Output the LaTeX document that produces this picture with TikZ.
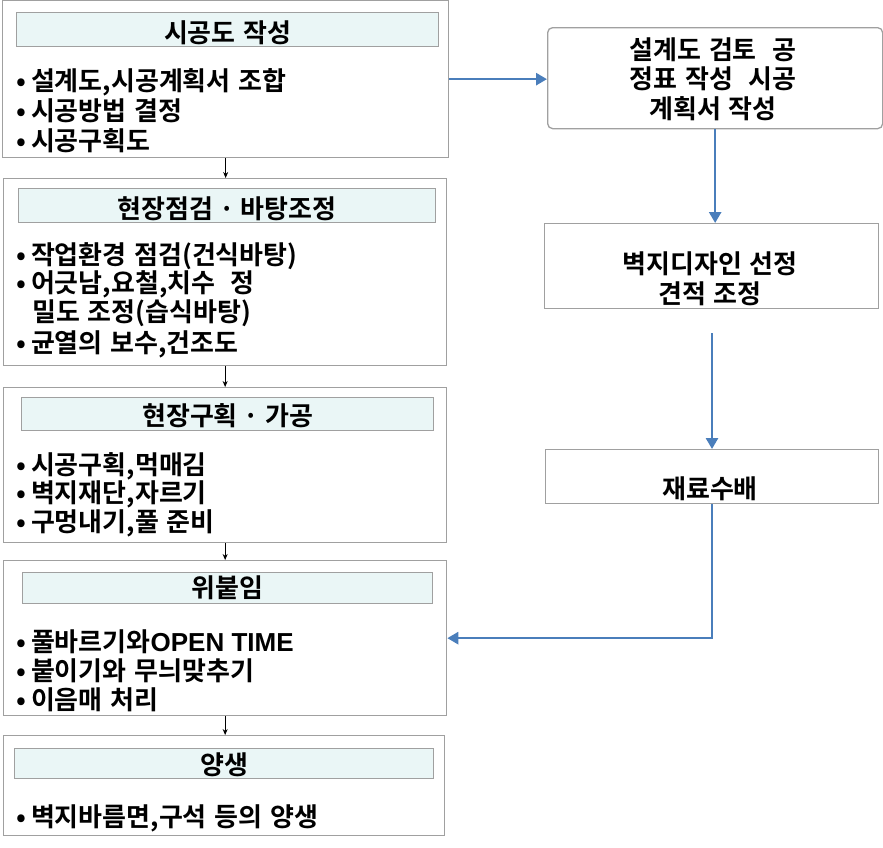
\documentclass[tikz,border=0pt]{standalone}
\usepackage{fontspec}
\setmainfont{Noto Sans CJK KR}[BoldFont={Noto Sans CJK KR Bold},WordSpace=1.3]
\newfontfamily\latinb{Liberation Sans}
\usetikzlibrary{arrows.meta}
\definecolor{boxgray}{HTML}{A0A0A0}
\definecolor{headfill}{HTML}{EAF6F6}
\definecolor{flowblue}{HTML}{4A7EBB}
\newcommand{\mdot}{\hspace{6pt}·\hspace{6pt}}
\newcommand{\lowered}[2]{\raisebox{-#1}[\height][\depth]{#2}}
\begin{document}
\begin{tikzpicture}[x=1pt,y=-1pt,
  obox/.style={draw=boxgray,line width=1.3pt,fill=white,anchor=north west,inner sep=0pt},
  hbox/.style={draw=boxgray,line width=1.3pt,fill=headfill,anchor=north west,inner sep=0pt,
    font=\fontsize{26}{30}\selectfont\bfseries},
  btxt/.style={anchor=west,inner sep=0pt,font=\fontsize{26}{30}\selectfont\bfseries},
  rtxt/.style={align=center,inner sep=0pt,font=\fontsize{26}{29.5}\selectfont\bfseries},
  blackarrow/.style={draw=black,line width=0.8pt,-{Stealth[length=6pt,width=5pt]}},
  bluearrow/.style={draw=flowblue,line width=2.6pt,-{Triangle[length=11pt,width=12pt]}}]
\useasboundingbox (0,0) rectangle (883,847);
\fill[white] (0,0) rectangle (883,847);

% left column boxes
\node[obox,minimum width=446pt,minimum height=157pt] (b1) at (2,0) {};
\node[obox,minimum width=443pt,minimum height=187pt] (b2) at (3,178) {};
\node[obox,minimum width=443pt,minimum height=155pt] (b3) at (3,387) {};
\node[obox,minimum width=443pt,minimum height=155pt] (b4) at (3,560) {};
\node[obox,minimum width=441pt,minimum height=100pt] (b5) at (3,735) {};

% headers
\node[hbox,minimum width=422pt,minimum height=34pt] (h1) at (16,12) {\lowered{3pt}{시공도 작성}};
\node[hbox,minimum width=417pt,minimum height=34pt] (h2) at (18,188) {\lowered{3pt}{현장점검\mdot 바탕조정}};
\node[hbox,minimum width=412pt,minimum height=33pt] (h3) at (21,397) {\lowered{2pt}{현장구획\mdot 가공}};
\node[hbox,minimum width=410pt,minimum height=31pt] (h4) at (22,572) {위붙임};
\node[hbox,minimum width=419pt,minimum height=30pt] (h5) at (14,748) {\lowered{1.5pt}{양생}};

% bullet texts
\node[btxt] (t1a) at (16,82) {•\hspace{5pt}설계도,시공계획서 조합};
\node[btxt] (t1b) at (16,111) {•\hspace{5pt}시공방법 결정};
\node[btxt] (t1c) at (16,141) {•\hspace{5pt}시공구획도};

\node[btxt] (t2a) at (16,256) {•\hspace{5pt}작업환경 점검(건식바탕)};
\node[btxt] (t2b) at (16,284) {•\hspace{5pt}어긋남,요철,치수 \ 정};
\node[btxt] (t2c) at (32,313) {밀도 조정(습식바탕)};
\node[btxt] (t2d) at (16,344) {•\hspace{5pt}균열의 보수,건조도};

\node[btxt] (t3a) at (16,466) {•\hspace{5pt}시공구획,먹매김};
\node[btxt] (t3b) at (16,494) {•\hspace{5pt}벽지재단,자르기};
\node[btxt] (t3c) at (16,523) {•\hspace{5pt}구멍내기,풀 준비};

\node[btxt] (t4a) at (16,642) {•\hspace{5pt}풀바르기와{\latinb\bfseries OPEN TIME}};
\node[btxt] (t4b) at (16,671) {•\hspace{5pt}붙이기와 무늬맞추기};
\node[btxt] (t4c) at (16,700) {•\hspace{5pt}이음매 처리};

\node[btxt] (t5a) at (16,818) {•\hspace{5pt}벽지바름면,구석 등의 양생};

% right column
\node[obox,rounded corners=5pt,minimum width=335pt,minimum height=101pt] (r1) at (547,27) {};
\node[rtxt] (r1t) at (713,79) {설계도 검토\hspace{0.6em}공\\정표 작성\hspace{0.6em}시공\\계획서 작성};
\node[obox,minimum width=334pt,minimum height=85pt] (r2) at (544,223) {};
\node[rtxt] (r2t) at (710,279) {벽지디자인 선정\\견적 조정};
\node[obox,minimum width=333pt,minimum height=54pt] (r3) at (545,449) {};
\node[rtxt] (r3t) at (710,489) {재료수배};

% black arrows
\draw[blackarrow] (b1.south) -- (b1.south |- b2.north);
\draw[blackarrow] (b2.south) -- (b2.south |- b3.north);
\draw[blackarrow] (b3.south) -- (b3.south |- b4.north);
\draw[blackarrow] (b4.south) -- (b4.south |- b5.north);

% blue arrows
\draw[bluearrow] (b1.east) -- (b1.east -| r1.west);
\draw[bluearrow] (r1.south) -- (r1.south |- r2.north);
\coordinate (c1) at (712,333);
\draw[bluearrow] (c1) -- (c1 |- r3.north);
\draw[bluearrow] (r3.south) |- (b4.east);
\end{tikzpicture}
\end{document}
